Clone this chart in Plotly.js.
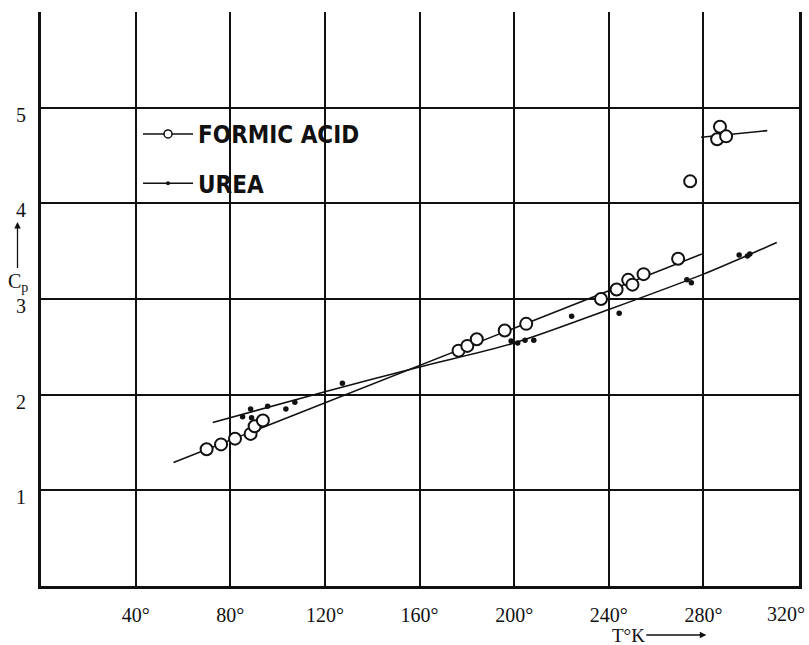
<!DOCTYPE html>
<html>
<head>
<meta charset="utf-8">
<script src="https://cdn.plot.ly/plotly-3.0.1.min.js"></script>
<style>html,body{margin:0;padding:0;background:#fff;}#chart{width:809px;height:645px;}</style>
</head>
<body>
<div id="chart"></div>
<script>
// Formic acid measurements (open circles)
const formicT  = [70.0, 76.1, 82.0, 88.6, 90.3, 93.8, 176.5, 180.2, 184.2, 196.0, 205.1, 236.7, 243.3, 248.2, 250.0, 254.7, 269.3, 274.4, 285.8, 287.0, 289.6];
const formicCp = [1.43, 1.48, 1.54, 1.59, 1.67, 1.73, 2.46, 2.51, 2.58, 2.67, 2.74, 3.00, 3.10, 3.20, 3.15, 3.26, 3.42, 4.23, 4.67, 4.80, 4.70];
// Urea measurements (dots)
const ureaT  = [85.2, 88.6, 89.0, 95.8, 103.5, 107.3, 127.4, 198.7, 201.5, 204.6, 208.3, 224.3, 244.4, 273.0, 274.9, 295.1, 298.6, 299.6];
const ureaCp = [1.77, 1.85, 1.76, 1.88, 1.85, 1.92, 2.12, 2.56, 2.54, 2.57, 2.57, 2.82, 2.85, 3.20, 3.17, 3.46, 3.45, 3.47];
// Drawn curves
const formicSolidT  = [56, 279.3];
const formicSolidCp = [1.29, 3.47];
const formicLiquidT  = [279, 307];
const formicLiquidCp = [4.69, 4.76];
const ureaCurveT  = [72.6, 120, 160, 200, 240, 280, 311];
const ureaCurveCp = [1.71, 2.03, 2.29, 2.54, 2.89, 3.26, 3.59];
// Tick labels
const xTickVals = [40, 80, 120, 160, 200, 240, 280, 320];
const xTickText = ["40°", "80°", "120°", "160°", "200°", "240°", "280°", "320°"];
const yTickVals = [1, 2, 3, 4, 5];
const yTickText = ["1", "2", "3", "4", "5"];
const seriesNames = ["FORMIC ACID", "UREA"];

// The last x label sits at the page's right edge, so it is placed as an annotation kept inside the page.
const nX = xTickVals.length;
const axisTickVals = xTickVals.slice(0, nX - 1);
const axisTickText = xTickText.slice(0, nX - 1);

const lineStyle = {color: '#111', width: 1.6};
const traces = [
  {x: formicSolidT, y: formicSolidCp, mode: 'lines', line: lineStyle, showlegend: false, hoverinfo: 'skip'},
  {x: formicLiquidT, y: formicLiquidCp, mode: 'lines', line: lineStyle, showlegend: false, hoverinfo: 'skip'},
  {x: ureaCurveT, y: ureaCurveCp, mode: 'lines', line: Object.assign({shape: 'spline', smoothing: 0.8}, lineStyle), showlegend: false, hoverinfo: 'skip'},
  {x: formicT, y: formicCp, mode: 'markers', showlegend: false,
   marker: {symbol: 'circle', size: 12, color: '#fff', line: {color: '#111', width: 2}}},
  {x: ureaT, y: ureaCp, mode: 'markers', showlegend: false,
   marker: {symbol: 'circle', size: 5.5, color: '#111'}},
  // legend entries
  {x: [null], y: [null], mode: 'lines+markers', name: seriesNames[0], legendgroup: 'a',
   line: {color: '#111', width: 1.5}, marker: {symbol: 'circle', size: 8, color: '#fff', line: {color: '#111', width: 1.5}}},
  {x: [null], y: [null], mode: 'lines+markers', name: seriesNames[1], legendgroup: 'b',
   line: {color: '#111', width: 1.5}, marker: {symbol: 'circle', size: 4, color: '#111'}}
];

const tickFont = {family: 'Liberation Serif, DejaVu Serif, serif', size: 20, color: '#111'};
const layout = {
  width: 809, height: 645,
  margin: {l: 41, r: 10, t: 12, b: 59, pad: 0},
  paper_bgcolor: '#fff', plot_bgcolor: '#fff',
  showlegend: true,
  legend: {x: 0.128, y: 0.826, xanchor: 'left', yanchor: 'top', bgcolor: 'rgba(0,0,0,0)',
    traceorder: 'grouped', tracegroupgap: 15, itemwidth: 50,
    font: {family: 'DejaVu Sans Condensed, Liberation Sans Narrow, DejaVu Sans, sans-serif', size: 24, weight: 'bold', color: '#111'}},
  xaxis: {range: [0, 320.4], tickvals: axisTickVals, ticktext: axisTickText, ticks: '', tickfont: tickFont,
    showgrid: true, gridcolor: '#111', gridwidth: 2, zeroline: false,
    showline: true, linecolor: '#111', linewidth: 3, mirror: false, ticklabelstandoff: 9, fixedrange: true},
  yaxis: {range: [0, 6.0], tickvals: yTickVals, ticktext: yTickText, ticks: '', tickfont: tickFont,
    showgrid: true, gridcolor: '#111', gridwidth: 2, zeroline: false,
    showline: true, linecolor: '#111', linewidth: 3, mirror: true, ticklabelstandoff: 8, ticklabelshift: 7, fixedrange: true},
  annotations: [
    {xref: 'x', yref: 'paper', x: xTickVals[nX - 1], y: -16 / 574, xanchor: 'right', yanchor: 'top', xshift: 8,
     text: xTickText[nX - 1], showarrow: false, borderpad: 0, font: tickFont},
    {xref: 'paper', yref: 'paper', x: -0.031, y: (586 - 222) / 574, ax: 0, ay: 60, axref: 'pixel', ayref: 'pixel',
     text: 'C<sub>p</sub>', showarrow: true, arrowhead: 2, arrowsize: 1, arrowwidth: 1.3, arrowcolor: '#111',
     font: {family: 'Liberation Serif, DejaVu Serif, serif', size: 20, color: '#111'}},
    {xref: 'paper', yref: 'paper', x: (706 - 40.7) / 758, y: -49 / 574, ax: -78, ay: 0,
     text: 'T°K', showarrow: true, arrowhead: 2, arrowsize: 1, arrowwidth: 1.3, arrowcolor: '#111', standoff: 0,
     font: {family: 'Liberation Serif, DejaVu Serif, serif', size: 19, color: '#111'}}
  ]
};
Plotly.newPlot('chart', traces, layout, {displayModeBar: false, staticPlot: true});
</script>
</body>
</html>
